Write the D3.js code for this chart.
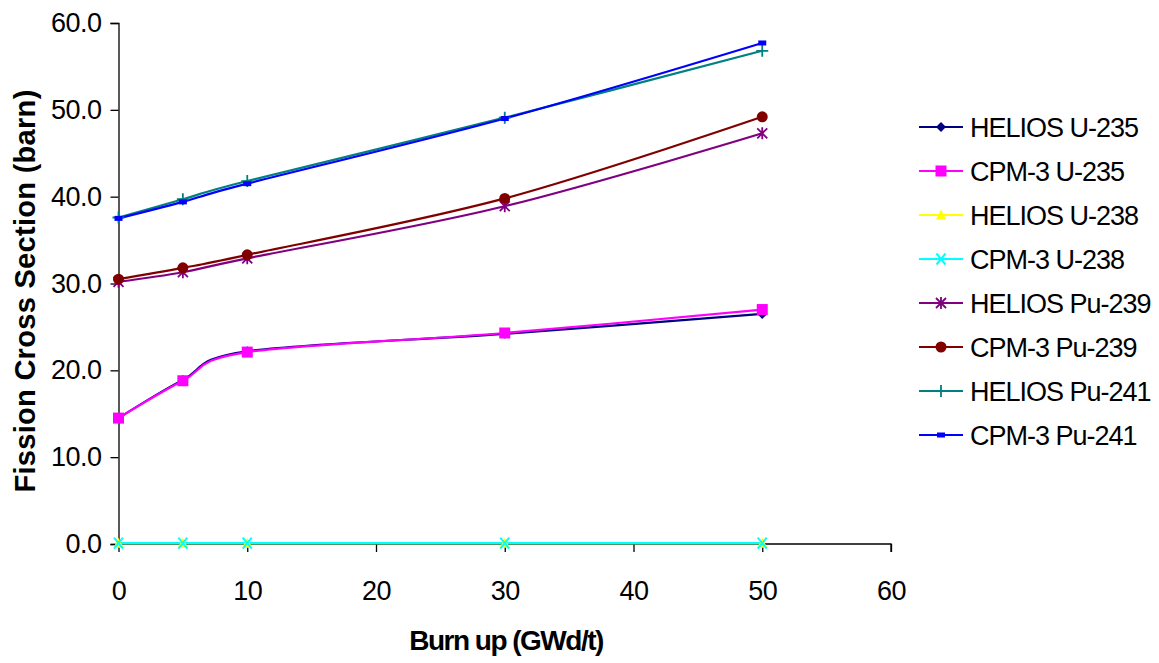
<!DOCTYPE html>
<style>
    body, html { margin: 0; padding: 0; background: #fff; overflow: hidden; }
    text { font-family: "Liberation Sans", Arial, sans-serif; }
</style>
<svg width="1159" height="663"></svg>
<script src="https://d3js.org/d3.v7.min.js"></script>
<script>
    // burnup points (GWd/t)
    var burnup = [0, 5, 10, 30, 50];

    var heliosU235 = [14.5, 18.9, 22.2, 24.2, 26.5];
    var cpmU235 = [14.5, 18.8, 22.1, 24.3, 27.0];
    var heliosU238 = [0.1, 0.1, 0.1, 0.1, 0.1];
    var cpmU238 = [0.1, 0.1, 0.1, 0.1, 0.1];
    var heliosPu239 = [30.2, 31.3, 32.9, 38.9, 47.3];
    var cpmPu239 = [30.5, 31.8, 33.3, 39.8, 49.2];
    var heliosPu241 = [37.6, 39.7, 41.8, 49.1, 56.8];
    var cpmPu241 = [37.5, 39.4, 41.5, 49.0, 57.7];

    var seriesNames = ["HELIOS U-235", "CPM-3 U-235", "HELIOS U-238", "CPM-3 U-238",
        "HELIOS Pu-239", "CPM-3 Pu-239", "HELIOS Pu-241", "CPM-3 Pu-241"];
    var seriesValues = [heliosU235, cpmU235, heliosU238, cpmU238,
        heliosPu239, cpmPu239, heliosPu241, cpmPu241];
    var seriesColors = ["#000080", "#ff00ff", "#ffff00", "#00ffff",
        "#800080", "#800000", "#008080", "#0000ff"];
    var seriesMarkers = ["diamond", "square", "triangle", "x", "star", "circle", "plus", "dash"];

    var xTicks = [0, 10, 20, 30, 40, 50, 60];
    var yTicks = [0, 10, 20, 30, 40, 50, 60];

    var svg = d3.select("svg");
    var x = d3.scaleLinear().domain([0, 60]).range([118.5, 891]);
    var y = d3.scaleLinear().domain([0, 60]).range([544, 23]);

    // axes
    var xAxis = svg.append("g")
        .attr("transform", "translate(0," + y(0) + ")")
        .call(d3.axisBottom(x).tickValues(xTicks).tickSize(8).tickPadding(29).tickFormat(d3.format("d")));
    var yAxis = svg.append("g")
        .attr("transform", "translate(" + x(0) + ",0)")
        .call(d3.axisLeft(y).tickValues(yTicks).tickSize(8).tickPadding(9).tickFormat(d3.format(".1f")));
    [xAxis, yAxis].forEach(function (a) {
        a.select(".domain").attr("stroke", "#000").attr("stroke-width", 1.3);
        a.selectAll(".tick line").attr("stroke", "#000").attr("stroke-width", 1.3);
        a.selectAll(".tick text").attr("font-size", 27).attr("fill", "#000")
            .attr("letter-spacing", "-0.5px")
            .style("font-family", "'Liberation Sans', Arial, sans-serif");
    });
    xAxis.select(".domain").attr("d", "M" + x(0) + ",0H" + x(60) + "V8");

    // axis titles
    svg.append("text")
        .attr("x", 506).attr("y", 650)
        .attr("text-anchor", "middle")
        .attr("font-size", 28).attr("font-weight", "bold").attr("letter-spacing", "-1.5px")
        .text("Burn up (GWd/t)");
    svg.append("text")
        .attr("transform", "translate(35,291) rotate(-90)")
        .attr("text-anchor", "middle")
        .attr("font-size", 29).attr("font-weight", "bold").attr("letter-spacing", "0.3px")
        .text("Fission Cross Section (barn)");

    function drawMarker(g, type, color) {
        if (type === "diamond") {
            g.append("path").attr("d", "M0,-5L5,0L0,5L-5,0Z").attr("fill", color);
        } else if (type === "square") {
            g.append("rect").attr("x", -5.5).attr("y", -5.5).attr("width", 11).attr("height", 11).attr("fill", color);
        } else if (type === "triangle") {
            g.append("path").attr("d", "M0,-5.5L5,4.5L-5,4.5Z").attr("fill", color);
        } else if (type === "x") {
            g.append("path").attr("d", "M-4.5,-5.5L4.5,5.5M4.5,-5.5L-4.5,5.5")
                .attr("stroke", color).attr("stroke-width", 2);
        } else if (type === "star") {
            g.append("path").attr("d", "M-5,-5L5,5M5,-5L-5,5M0,-6V6")
                .attr("stroke", color).attr("stroke-width", 1.8);
        } else if (type === "circle") {
            g.append("circle").attr("r", 5.5).attr("fill", color);
        } else if (type === "plus") {
            g.append("path").attr("d", "M-6,0H6M0,-6V6")
                .attr("stroke", color).attr("stroke-width", 1.8);
        } else if (type === "dash") {
            g.append("rect").attr("x", -4).attr("y", -2.5).attr("width", 8).attr("height", 5).attr("fill", color);
        }
    }

    var line = d3.line()
        .x(function (d, i) { return x(burnup[i]); })
        .y(function (d) { return y(d); })
        .curve(d3.curveCardinal.tension(0));

    seriesValues.forEach(function (vals, s) {
        svg.append("path")
            .attr("d", line(vals))
            .attr("fill", "none")
            .attr("stroke", seriesColors[s])
            .attr("stroke-width", 2.2);
    });
    seriesValues.forEach(function (vals, s) {
        vals.forEach(function (v, i) {
            var g = svg.append("g").attr("transform", "translate(" + x(burnup[i]) + "," + y(v) + ")");
            drawMarker(g, seriesMarkers[s], seriesColors[s]);
        });
    });

    // legend
    var legend = svg.append("g");
    seriesNames.forEach(function (name, s) {
        var ly = 127 + s * 44;
        legend.append("line")
            .attr("x1", 919).attr("x2", 963).attr("y1", ly).attr("y2", ly)
            .attr("stroke", seriesColors[s]).attr("stroke-width", 2.2);
        drawMarker(legend.append("g").attr("transform", "translate(941," + ly + ")"), seriesMarkers[s], seriesColors[s]);
        legend.append("text")
            .attr("x", 970).attr("y", ly + 10)
            .attr("font-size", 27).attr("letter-spacing", "-1px")
            .text(name);
    });
</script>
